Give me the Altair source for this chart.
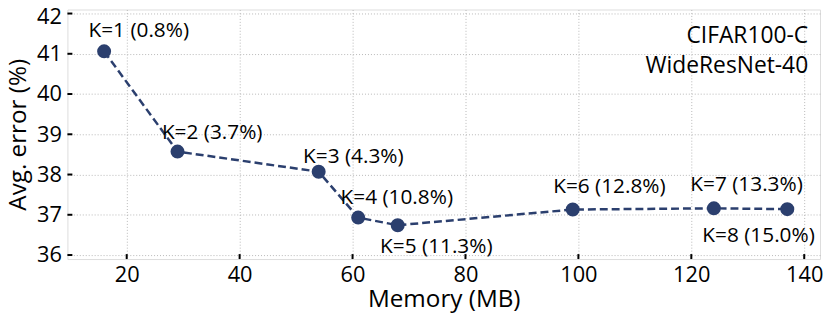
import altair as alt
import pandas as pd

memory_mb = [16, 29, 54, 61, 68, 99, 124, 137]
avg_error = [41.06, 38.57, 38.07, 36.93, 36.74, 37.13, 37.16, 37.14]
labels = ["K=1 (0.8%)", "K=2 (3.7%)", "K=3 (4.3%)", "K=4 (10.8%)",
          "K=5 (11.3%)", "K=6 (12.8%)", "K=7 (13.3%)", "K=8 (15.0%)"]
x_ticks = [20, 40, 60, 80, 100, 120, 140]
y_ticks = [36, 37, 38, 39, 40, 41, 42]
corner_lines = ["CIFAR100-C", "WideResNet-40"]

# label offsets (pixels) relative to each point: style only
label_dx = [35, 35, 35, 39, 39, 37, 33, -29]
label_dy = [-14, -13, -9, -14, 28, -17, -17, 33]

FONT = "Open Sans"
NAVY = "#2b3f6e"
W, H = 760, 252

df = pd.DataFrame({"mem": memory_mb, "err": avg_error, "label": labels})

xs = alt.Scale(domain=[9.5, 142.8], nice=False, zero=False)
ys = alt.Scale(domain=[35.9, 42.1], nice=False, zero=False)

base = alt.Chart(df)

line = base.mark_line(color=NAVY, strokeWidth=2.5, strokeDash=[8, 4]).encode(
    x=alt.X("mem:Q", scale=xs,
            axis=alt.Axis(title="Memory (MB)", values=x_ticks, grid=True,
                          gridColor="#b8b8b8", gridDash=[1, 2], gridWidth=1,
                          domain=False, ticks=False, labelPadding=6,
                          labelFontSize=22, labelFont=FONT, labelColor="black",
                          titleFont=FONT, titleFontSize=24.5, titleFontWeight="normal",
                          titleColor="black", titlePadding=2)),
    y=alt.Y("err:Q", scale=ys,
            axis=alt.Axis(title="Avg. error (%)", values=y_ticks, grid=True,
                          gridColor="#b8b8b8", gridDash=[1, 2], gridWidth=1,
                          domain=False, ticks=False, labelPadding=6,
                          labelOffset=alt.condition("datum.value == 42", alt.value(3), alt.value(0)),
                          labelFontSize=22, labelFont=FONT, labelColor="black",
                          titleFont=FONT, titleFontSize=24.5, titleFontWeight="normal",
                          titleColor="black", titlePadding=6)),
)

points = base.mark_circle(color=NAVY, size=200, opacity=1).encode(
    x=alt.X("mem:Q", scale=xs), y=alt.Y("err:Q", scale=ys)
)

text_layers = []
for i in range(len(labels)):
    t = alt.Chart(df.iloc[[i]]).mark_text(
        font=FONT, fontSize=21, color="black", align="center",
        baseline="alphabetic", dx=label_dx[i], dy=label_dy[i]
    ).encode(x=alt.X("mem:Q", scale=xs), y=alt.Y("err:Q", scale=ys), text="label:N")
    text_layers.append(t)

xt = alt.Chart(pd.DataFrame({"v": x_ticks})).mark_rule(color="black", strokeWidth=2).encode(
    x=alt.X("v:Q", scale=xs), y=alt.value(H), y2=alt.value(H - 5))
yt = alt.Chart(pd.DataFrame({"v": y_ticks})).mark_rule(color="black", strokeWidth=2).encode(
    y=alt.Y("v:Q", scale=ys), x=alt.value(0), x2=alt.value(5))

corner = alt.Chart(pd.DataFrame({"a": [0]})).mark_text(
    text=corner_lines, font=FONT, fontSize=23, color="black", align="right",
    baseline="alphabetic", lineHeight=30
).encode(x=alt.value(748), y=alt.value(34))

chart = alt.layer(xt, yt, line, points, *text_layers, corner).properties(
    width=W, height=H,
    autosize=alt.AutoSizeParams(type="none"),
    padding={"left": 60, "top": 0, "right": 3, "bottom": 56},
).configure_view(stroke="black", strokeWidth=3).configure(background="white")

chart.save("out.html", embed_options={"renderer": "svg", "actions": False})
